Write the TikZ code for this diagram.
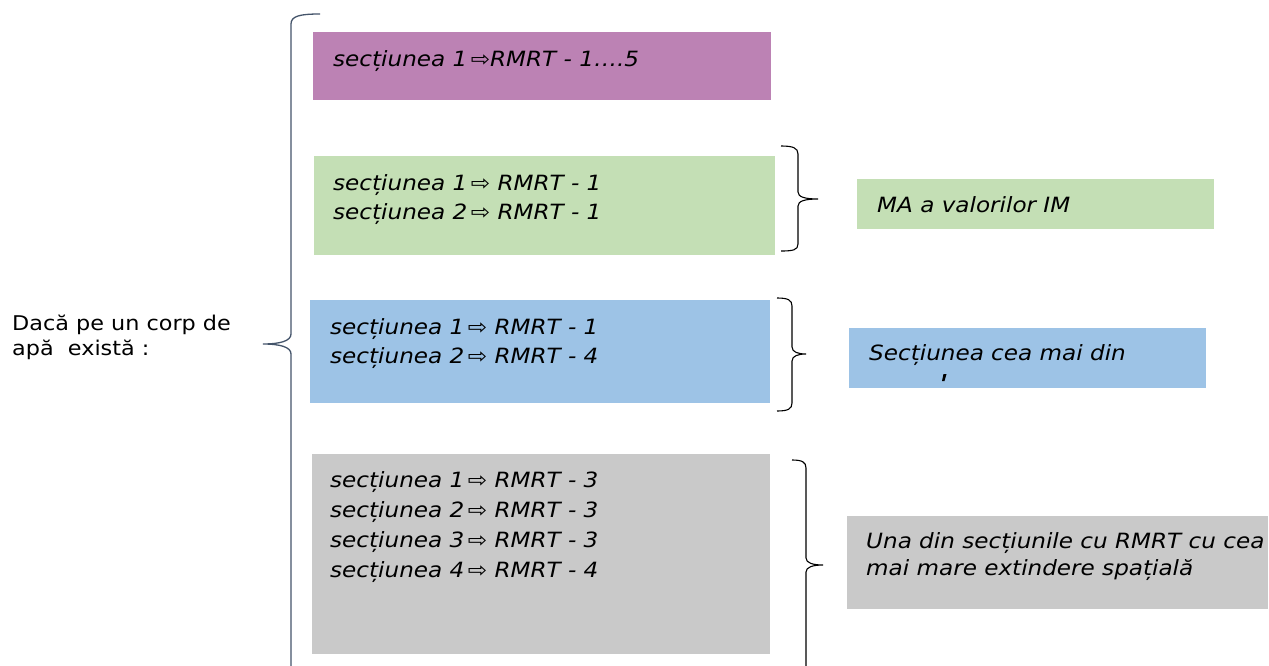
\documentclass[tikz,border=0pt]{standalone}
\usepackage{fontspec}
\setmainfont{DejaVu Sans}[FakeStretch=1.1]
\begin{document}
\begin{tikzpicture}[x=1pt,y=-1pt,
  box/.style={draw=none,inner sep=0pt,anchor=north west},
  txt/.style={inner sep=0pt,anchor=base west,font=\fontsize{21}{29}\selectfont\itshape},
  ltxt/.style={inner sep=0pt,anchor=base west,font=\fontsize{20.3}{25}\selectfont},
  rbrace/.style={draw=black,line width=1.1pt}]
\definecolor{cpurple}{RGB}{188,130,180}
\definecolor{cgreen}{RGB}{196,223,181}
\definecolor{cblue}{RGB}{157,195,230}
\definecolor{cgray}{RGB}{201,201,201}
\definecolor{cnavy}{RGB}{68,84,106}
\useasboundingbox (0,0) rectangle (1269,666);
\fill[white] (0,0) rectangle (1269,666);
% left boxes
\node[box,fill=cpurple,minimum width=458pt,minimum height=68pt] (b1) at (313,32) {};
\node[box,fill=cgreen,minimum width=461pt,minimum height=99pt] (b2) at (314,156) {};
\node[box,fill=cblue,minimum width=460pt,minimum height=103pt] (b3) at (310,300) {};
\node[box,fill=cgray,minimum width=458pt,minimum height=200pt] (b4) at (312,454) {};
% right boxes
\node[box,fill=cgreen,minimum width=357pt,minimum height=50pt] (r1) at (857,179) {};
\node[box,fill=cblue,minimum width=357pt,minimum height=60pt] (r2) at (849,328) {};
\node[box,fill=cgray,minimum width=421pt,minimum height=93pt] (r3) at (847,516) {};
% texts
\node[txt] (t1) at (333,67) {secțiunea 1\,⇨RMRT - 1….5};
\node[txt] (t2a) at (333,190) {secțiunea 1\,⇨ RMRT - 1};
\node[txt] (t2b) at (333,219) {secțiunea 2\,⇨ RMRT - 1};
\node[txt] (t3a) at (330,334) {secțiunea 1\,⇨ RMRT - 1};
\node[txt] (t3b) at (330,363) {secțiunea 2\,⇨ RMRT - 4};
\node[txt] (t4a) at (330,487) {secțiunea 1\,⇨ RMRT - 3};
\node[txt] (t4b) at (330,517) {secțiunea 2\,⇨ RMRT - 3};
\node[txt] (t4c) at (330,547) {secțiunea 3\,⇨ RMRT - 3};
\node[txt] (t4d) at (330,577) {secțiunea 4\,⇨ RMRT - 4};
\node[txt] (s1) at (877,212) {MA a valorilor IM};
\node[txt] (s2) at (869,360) {Secțiunea cea mai din};
\fill (943.5,374) -- (946.5,374) -- (944.5,381) -- (942,381) -- cycle;
\node[txt] (s3a) at (866,548) {Una din secțiunile cu RMRT cu cea};
\node[txt] (s3b) at (866,575) {mai mare extindere spațială};
\node[ltxt] (lt1) at (12,330) {Dacă pe un corp de};
\node[ltxt] (lt2) at (12,355) {apă\ \ există :};
% left brace
\draw[draw=cnavy,line width=1.3pt]
  (320,14) .. controls (300,14) and (291,16) .. (291,24) -- (291,334)
  .. controls (291,341) and (280,344) .. (263,344)
  .. controls (280,344) and (291,347) .. (291,354) -- (291,670);
% right braces
\draw[rbrace]
  (781,146) .. controls (793,146) and (798,148) .. (798,154) -- (798,192)
  .. controls (798,197) and (805,199) .. (818,199)
  .. controls (805,199) and (798,201) .. (798,206) -- (798,244)
  .. controls (798,250) and (793,251) .. (781,251);
\draw[rbrace]
  (777,298) .. controls (788,298) and (792,300) .. (792,306) -- (792,347)
  .. controls (792,352) and (798,354) .. (806,354)
  .. controls (798,354) and (792,356) .. (792,361) -- (792,403)
  .. controls (792,409) and (788,411) .. (777,411);
\draw[rbrace]
  (792,460) .. controls (802,460) and (806,462) .. (806,468) -- (806,558)
  .. controls (806,563) and (813,565) .. (823,565)
  .. controls (813,565) and (806,567) .. (806,572) -- (806,670);
\end{tikzpicture}
\end{document}
